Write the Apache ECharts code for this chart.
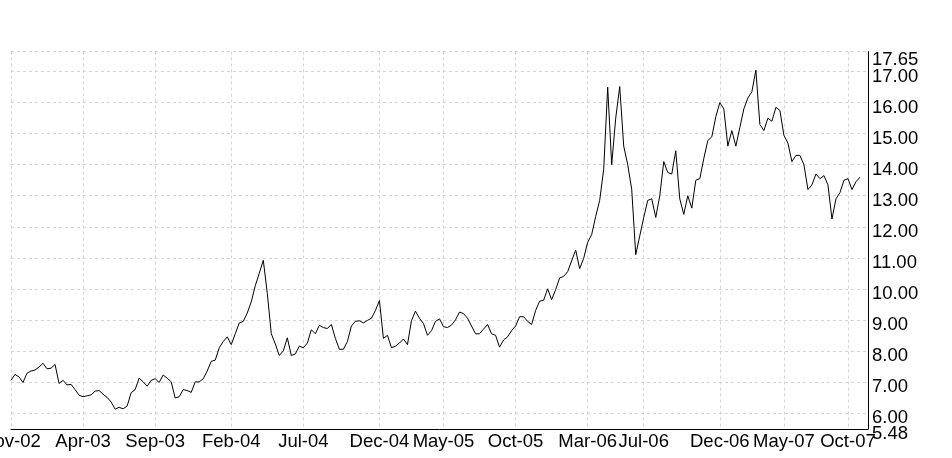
<!DOCTYPE html>
<html>
<head>
<meta charset="utf-8">
<script src="https://cdn.jsdelivr.net/npm/echarts@6/dist/echarts.min.js"></script>
<style>
html,body{margin:0;padding:0;background:#fff;}
#chart{width:952px;height:458px;}
</style>
</head>
<body>
<div id="chart"></div>
<script>
// Price series, one sample per slot on the category axis
const prices = [
7.05,7.24,7.16,6.98,7.28,7.35,7.38,7.48,7.6,7.42,
7.44,7.56,6.95,7.05,6.9,6.92,6.75,6.57,6.52,6.55,
6.58,6.7,6.72,6.6,6.5,6.35,6.12,6.18,6.13,6.22,
6.65,6.75,7.12,7.0,6.86,7.05,7.1,6.98,7.22,7.12,
7.0,6.48,6.52,6.75,6.72,6.66,7.0,7.0,7.1,7.35,
7.66,7.7,8.1,8.3,8.45,8.2,8.55,8.9,8.95,9.22,
9.58,10.1,10.5,10.92,9.85,8.55,8.22,7.85,8.0,8.42,
7.85,7.9,8.15,8.1,8.25,8.68,8.55,8.82,8.75,8.72,
8.85,8.4,8.05,8.05,8.3,8.8,8.95,8.97,8.9,8.98,
9.05,9.3,9.62,8.4,8.5,8.1,8.15,8.25,8.38,8.2,
8.97,9.28,9.05,8.88,8.5,8.65,8.95,9.03,8.78,8.75,
8.83,9.0,9.25,9.2,9.05,8.8,8.55,8.55,8.7,8.85,
8.55,8.5,8.12,8.35,8.45,8.65,8.8,9.1,9.1,8.95,
8.85,9.3,9.6,9.63,10.0,9.65,9.97,10.35,10.4,10.55,
10.9,11.25,10.65,10.98,11.5,11.75,12.33,12.85,13.85,16.5,
14.0,15.5,16.52,14.6,14.0,13.2,11.1,11.7,12.3,12.85,
12.9,12.3,13.0,14.1,13.75,13.7,14.45,12.9,12.4,13.0,
12.6,13.5,13.55,14.2,14.78,14.9,15.55,16.0,15.8,14.6,
15.1,14.6,15.2,15.8,16.15,16.35,17.05,15.3,15.1,15.5,
15.4,15.85,15.75,14.95,14.7,14.1,14.3,14.3,14.0,13.2,
13.35,13.7,13.55,13.65,13.35,12.25,12.9,13.1,13.5,13.55,
13.2,13.45,13.6
];
const slotCount = 215; // axis slots (the axis runs a little past the last price)

// X tick labels and the slot at which each one sits
const tickLabels = ['Nov-02','Apr-03','Sep-03','Feb-04','Jul-04','Dec-04','May-05','Oct-05','Mar-06','Jul-06','Dec-06','May-07','Oct-07'];
const tickIdx =    [0,       18,      36,      55,      73,      92,      108,     126,     144,     158,     177,     193,     209];

// Y axis
const yMin = 5.48, yMax = 17.65;
const yTicks = [6,7,8,9,10,11,12,13,14,15,16,17];
const yEnds = [yMin, yMax];

const categories = [];
for (let i = 0; i < slotCount; i++) categories.push(String(i));

const isTick = (i) => tickIdx.indexOf(i) >= 0;
const FONT = 'Liberation Sans, Arial, sans-serif';
const labelFont = {color: '#000', fontSize: 18.5, fontFamily: FONT};

const chart = echarts.init(document.getElementById('chart'), null, {renderer: 'canvas'});
chart.setOption({
  animation: false,
  backgroundColor: '#ffffff',
  grid: {left: 11, right: 84, top: 51.5, bottom: 29, containLabel: false, outerBoundsMode: 'none'},
  xAxis: {
    type: 'category',
    data: categories,
    boundaryGap: false,
    axisLine: {show: true, lineStyle: {color: '#000', width: 1}},
    axisTick: {show: false},
    axisLabel: Object.assign({
      interval: (i) => isTick(i),
      formatter: (v) => { const k = tickIdx.indexOf(Number(v)); return k >= 0 ? tickLabels[k] : ''; },
      margin: 3, hideOverlap: false
    }, labelFont),
    splitLine: {show: true, interval: (i) => isTick(i), lineStyle: {color: '#d4d4d4', type: [3, 3], width: 1}}
  },
  yAxis: [{
    type: 'value',
    position: 'right',
    min: yMin, max: yMax,
    axisLine: {show: true, lineStyle: {color: '#000', width: 1}},
    axisTick: {show: false, customValues: yTicks.concat([yMax])},
    axisLabel: Object.assign({
      customValues: yTicks,
      hideOverlap: false,
      margin: 4,
      verticalAlign: 'top',
      lineHeight: 11,
      formatter: (v) => Number(v).toFixed(2)
    }, labelFont),
    splitLine: {show: true, lineStyle: {color: '#d4d4d4', type: [3, 3], width: 1}}
  }, {
    type: 'value',
    position: 'right',
    offset: 0,
    min: yMin, max: yMax,
    axisLine: {show: false},
    axisTick: {show: false, customValues: yEnds},
    splitLine: {show: false},
    axisLabel: Object.assign({
      customValues: yEnds,
      showMinLabel: true, showMaxLabel: true, hideOverlap: false,
      margin: 4,
      verticalAlign: 'top',
      formatter: (v) => (Math.abs(v - yMax) < 1e-6 ? '{t|' : '{b|') + Number(v).toFixed(2) + '}',
      rich: {
        t: Object.assign({lineHeight: 17}, labelFont),
        b: Object.assign({lineHeight: 9}, labelFont)
      }
    }, labelFont)
  }],
  series: [{
    type: 'line',
    yAxisIndex: 0,
    data: prices,
    showSymbol: false,
    symbol: 'none',
    lineStyle: {color: '#000', width: 1},
    emphasis: {disabled: true}
  }]
});
</script>
</body>
</html>
